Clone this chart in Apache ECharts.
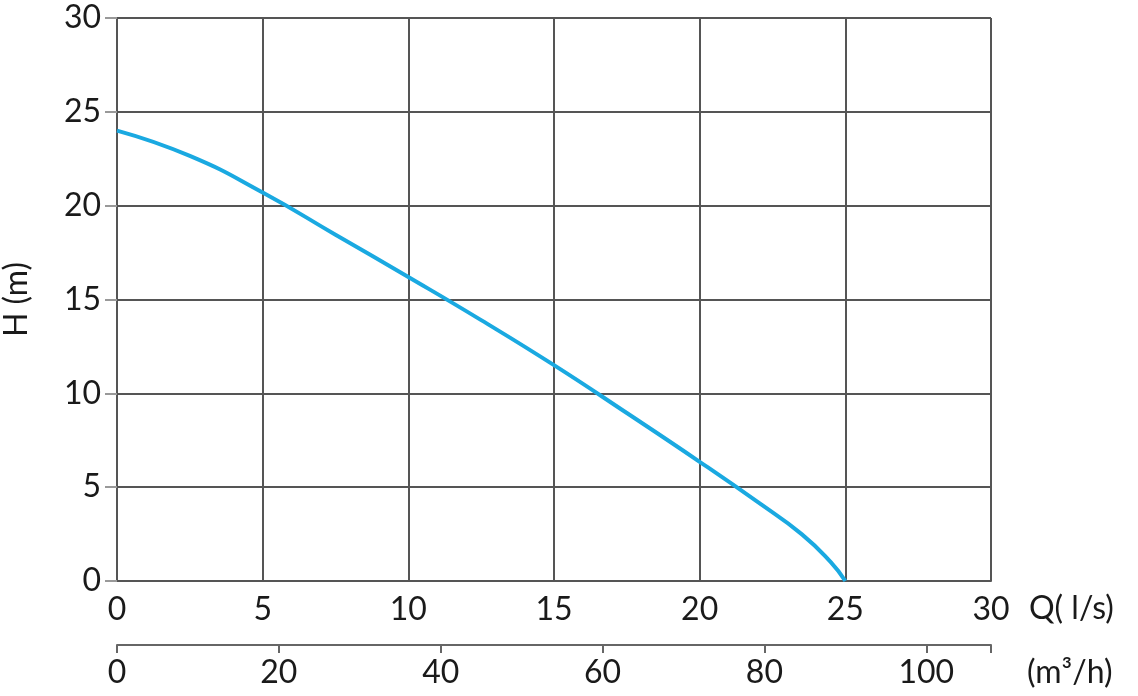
<!DOCTYPE html>
<html>
<head>
<meta charset="utf-8">
<style>
  html, body { margin: 0; padding: 0; background: #fff; }
  #chart { width: 1138px; height: 696px; }
</style>
<script src="https://cdn.jsdelivr.net/npm/echarts@6/dist/echarts.min.js"></script>
</head>
<body>
<div id="chart"></div>
<script>
// pump curve: flow Q (l/s) vs head H (m)
const flowLs = [0, 2.5, 5, 7.5, 10, 12.5, 15, 17.5, 20, 22, 23.5, 24.5, 25]
const headM = [24, 22.65, 20.7, 18.45, 16.2, 13.9, 11.5, 8.95, 6.35, 4.2, 2.5, 1.0, 0]
const m3hLabels = [0, 20, 40, 60, 80, 100]
const m3hTicks = [0, 20, 40, 60, 80, 100, 108]

const font = 'Lato'
const fontSize = 32
const textColor = '#1a1a1a'
const gridColor = '#555'

const chart = echarts.init(document.getElementById('chart'))

chart.setOption({
  animation: false,
  grid: {
    left: 117,
    right: 147,
    top: 18,
    bottom: 115,
    outerBoundsMode: 'none'
  },
  xAxis: [
    {
      type: 'value',
      min: 0,
      max: 30,
      interval: 5,
      name: 'Q( l/s)',
      nameLocation: 'end',
      nameGap: 38,
      nameTextStyle: {
        fontFamily: font,
        fontSize: fontSize,
        color: textColor,
        verticalAlign: 'top',
        lineHeight: 56
      },
      axisLine: { show: true, lineStyle: { color: gridColor, width: 2 } },
      axisTick: { show: false },
      axisLabel: { fontFamily: font, fontSize: fontSize, color: textColor, margin: 13 },
      splitLine: { show: true, lineStyle: { color: gridColor, width: 2 } }
    },
    {
      type: 'value',
      position: 'bottom',
      offset: 64,
      min: 0,
      max: 108,
      name: '(m³/h)',
      nameLocation: 'end',
      nameGap: 36,
      nameTextStyle: {
        fontFamily: font,
        fontSize: fontSize,
        color: textColor,
        verticalAlign: 'top',
        lineHeight: 56
      },
      axisLine: { show: true, lineStyle: { color: '#666', width: 2 } },
      axisTick: { show: true, customValues: m3hTicks, length: 8, lineStyle: { color: '#666', width: 2 } },
      axisLabel: { customValues: m3hLabels, fontFamily: font, fontSize: fontSize, color: textColor, margin: 12 },
      splitLine: { show: false }
    }
  ],
  yAxis: {
    type: 'value',
    min: 0,
    max: 30,
    interval: 5,
    name: 'H (m)',
    nameLocation: 'middle',
    nameGap: 84,
    nameTextStyle: { fontFamily: font, fontSize: fontSize, color: textColor },
    axisLine: { show: true, lineStyle: { color: gridColor, width: 2 } },
    axisTick: { show: true, length: 12, lineStyle: { color: '#999', width: 2 } },
    axisLabel: { fontFamily: font, fontSize: fontSize, color: textColor, margin: 16 },
    splitLine: { show: true, lineStyle: { color: gridColor, width: 2 } }
  },
  series: [
    {
      type: 'line',
      xAxisIndex: 0,
      data: flowLs.map((q, i) => [q, headM[i]]),
      smooth: 0.5,
      showSymbol: false,
      lineStyle: { color: '#1aa9e1', width: 4 }
    }
  ]
})
</script>
</body>
</html>
